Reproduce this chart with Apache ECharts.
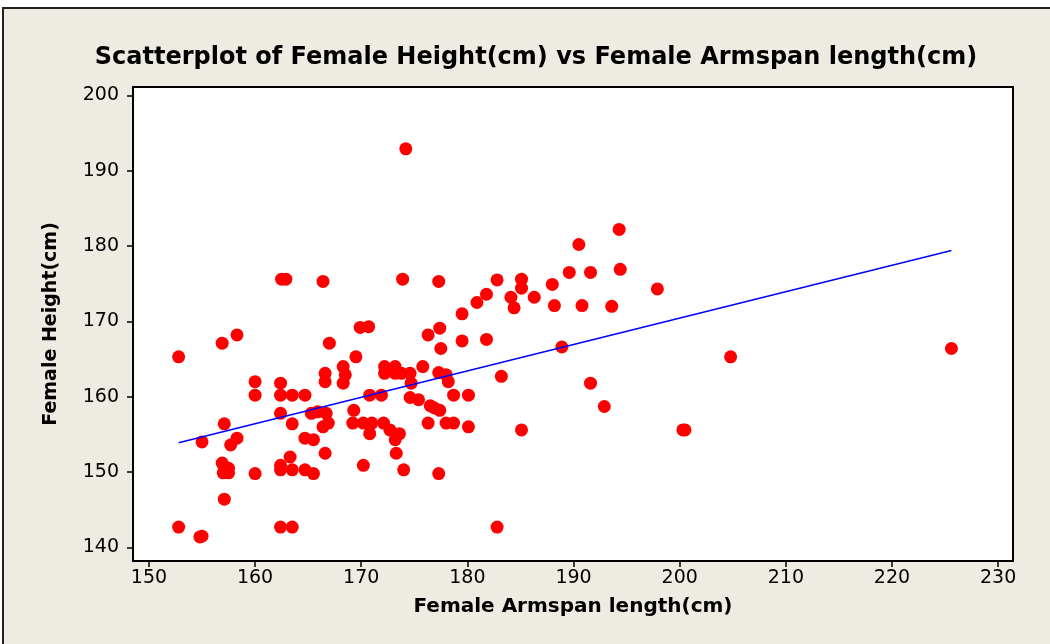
<!DOCTYPE html>
<html>
<head>
<meta charset="utf-8">
<script src="https://cdn.jsdelivr.net/npm/echarts@6/dist/echarts.min.js"></script>
<style>
  html, body { margin: 0; padding: 0; background: #fff; }
  #main { width: 1050px; height: 644px; }
</style>
</head>
<body>
<div id="main"></div>
<script>
// armspan (x) / height (y)
var armspan = [
  152.8, 152.8, 154.8, 155.0, 155.0, 156.9, 158.3, 157.1, 158.3, 157.7,
  156.9, 157.0, 157.5, 157.5, 157.1, 160.0, 160.0, 160.0, 162.4, 162.4,
  163.5, 164.7, 162.4, 163.5, 164.7, 165.5, 162.4, 162.4, 163.5, 163.3,
  164.7, 165.5, 162.4, 163.5, 162.5, 162.9, 166.4, 167.0, 166.6, 166.6,
  165.3, 165.9, 166.7, 166.4, 166.9, 166.6, 168.3, 168.5, 168.3, 169.5,
  169.9, 170.7, 169.3, 169.2, 170.2, 171.0, 170.8, 170.8, 171.9, 170.2,
  172.2, 173.2, 172.2, 173.2, 173.8, 174.6, 174.7, 175.8, 172.1, 172.7,
  173.6, 173.2, 173.3, 174.0, 173.9, 174.2, 174.6, 175.4, 176.3, 177.4,
  177.5, 177.3, 177.3, 178.0, 178.2, 176.5, 176.9, 177.4, 176.3, 178.0,
  178.7, 178.7, 180.1, 180.1, 177.3, 179.5, 179.5, 180.9, 181.8, 181.8,
  182.8, 183.2, 182.8, 184.1, 184.4, 185.1, 185.1, 185.1, 186.3, 188.0,
  188.2, 188.9, 189.6, 190.5, 190.8, 191.6, 191.6, 192.9, 193.6, 194.3,
  194.4, 197.9, 200.5, 200.3, 204.8, 225.6
];
var height = [
  165.3, 142.7, 141.4, 141.5, 154.0, 167.1, 168.2, 156.4, 154.5, 153.6,
  151.2, 149.9, 149.9, 150.5, 146.4, 162.0, 160.2, 149.8, 161.8, 160.2,
  160.2, 160.2, 157.8, 156.4, 154.5, 154.3, 150.9, 150.3, 150.3, 152.0,
  150.3, 149.8, 142.7, 142.7, 175.6, 175.6, 175.3, 167.1, 163.1, 162.0,
  157.8, 158.0, 157.8, 156.0, 156.5, 152.5, 164.0, 162.9, 161.8, 165.3,
  169.2, 169.3, 158.2, 156.5, 156.5, 156.5, 155.1, 160.2, 160.2, 150.9,
  164.0, 164.0, 163.1, 163.1, 163.1, 163.1, 161.8, 164.0, 156.5, 155.6,
  155.1, 154.3, 152.5, 150.3, 175.6, 192.9, 159.9, 159.6, 168.2, 169.1,
  166.4, 175.3, 163.2, 162.9, 162.0, 158.8, 158.5, 158.2, 156.5, 156.5,
  156.5, 160.2, 160.2, 156.0, 149.8, 171.0, 167.4, 172.5, 173.6, 167.6,
  175.5, 162.7, 142.7, 173.2, 171.8, 175.6, 174.4, 155.6, 173.2, 174.9,
  172.1, 166.6, 176.5, 180.2, 172.1, 176.5, 161.8, 158.7, 172.0, 182.2,
  176.9, 174.3, 155.6, 155.6, 165.3, 166.4
];
// fitted line end points
var fitX = [152.8, 225.6];
var fitY = [153.9, 179.4];

var xTicks = [150, 160, 170, 180, 190, 200, 210, 220, 230];
var yTicks = [140, 150, 160, 170, 180, 190, 200];

var points = armspan.map(function (x, i) { return [x, height[i]]; });
var fitLine = fitX.map(function (x, i) { return [x, fitY[i]]; });

var chart = echarts.init(document.getElementById('main'));

var font = 'DejaVu Sans';

var option = {
  animation: false,
  backgroundColor: '#fff',
  graphic: [{
    type: 'rect',
    z: -10,
    shape: { x: 3, y: 8, width: 1060, height: 660 },
    style: { fill: '#EEEBE2', stroke: '#222', lineWidth: 2 }
  }],
  title: {
    text: 'Scatterplot of Female Height(cm) vs Female Armspan length(cm)',
    left: 531,
    top: 41,
    textAlign: 'center',
    textStyle: { fontFamily: font, fontWeight: 'bold', fontSize: 24, color: '#000' }
  },
  grid: {
    left: 133, right: 37, top: 87, bottom: 83,
    show: true,
    backgroundColor: '#fff',
    borderColor: '#000',
    borderWidth: 2
  },
  xAxis: {
    type: 'value',
    min: 148.5,
    max: 231.4,
    name: 'Female Armspan length(cm)',
    nameLocation: 'middle',
    nameGap: 36,
    nameTextStyle: { fontFamily: font, fontWeight: 'bold', fontSize: 20, color: '#000' },
    axisLine: { show: true, lineStyle: { color: '#000', width: 2 } },
    axisTick: { show: true, length: 6, lineStyle: { color: '#000', width: 1.5 }, customValues: xTicks },
    axisLabel: { fontFamily: font, fontSize: 19, color: '#000', margin: 8, customValues: xTicks },
    splitLine: { show: false }
  },
  yAxis: {
    type: 'value',
    min: 138.2,
    max: 201.1,
    name: 'Female Height(cm)',
    nameLocation: 'middle',
    nameGap: 72,
    nameTextStyle: { fontFamily: font, fontWeight: 'bold', fontSize: 19, color: '#000' },
    axisLine: { show: true, lineStyle: { color: '#000', width: 2 } },
    axisTick: { show: true, length: 6, lineStyle: { color: '#000', width: 1.5 }, customValues: yTicks },
    axisLabel: { fontFamily: font, fontSize: 19, color: '#000', margin: 14, customValues: yTicks },
    splitLine: { show: false }
  },
  series: [
    {
      type: 'line',
      data: fitLine,
      symbol: 'none',
      lineStyle: { color: '#0000FF', width: 1.5 }
    },
    {
      type: 'scatter',
      data: points,
      symbol: 'circle',
      symbolSize: 13,
      itemStyle: { color: '#FF0000', opacity: 1 }
    }
  ]
};

chart.setOption(option);
</script>
</body>
</html>
